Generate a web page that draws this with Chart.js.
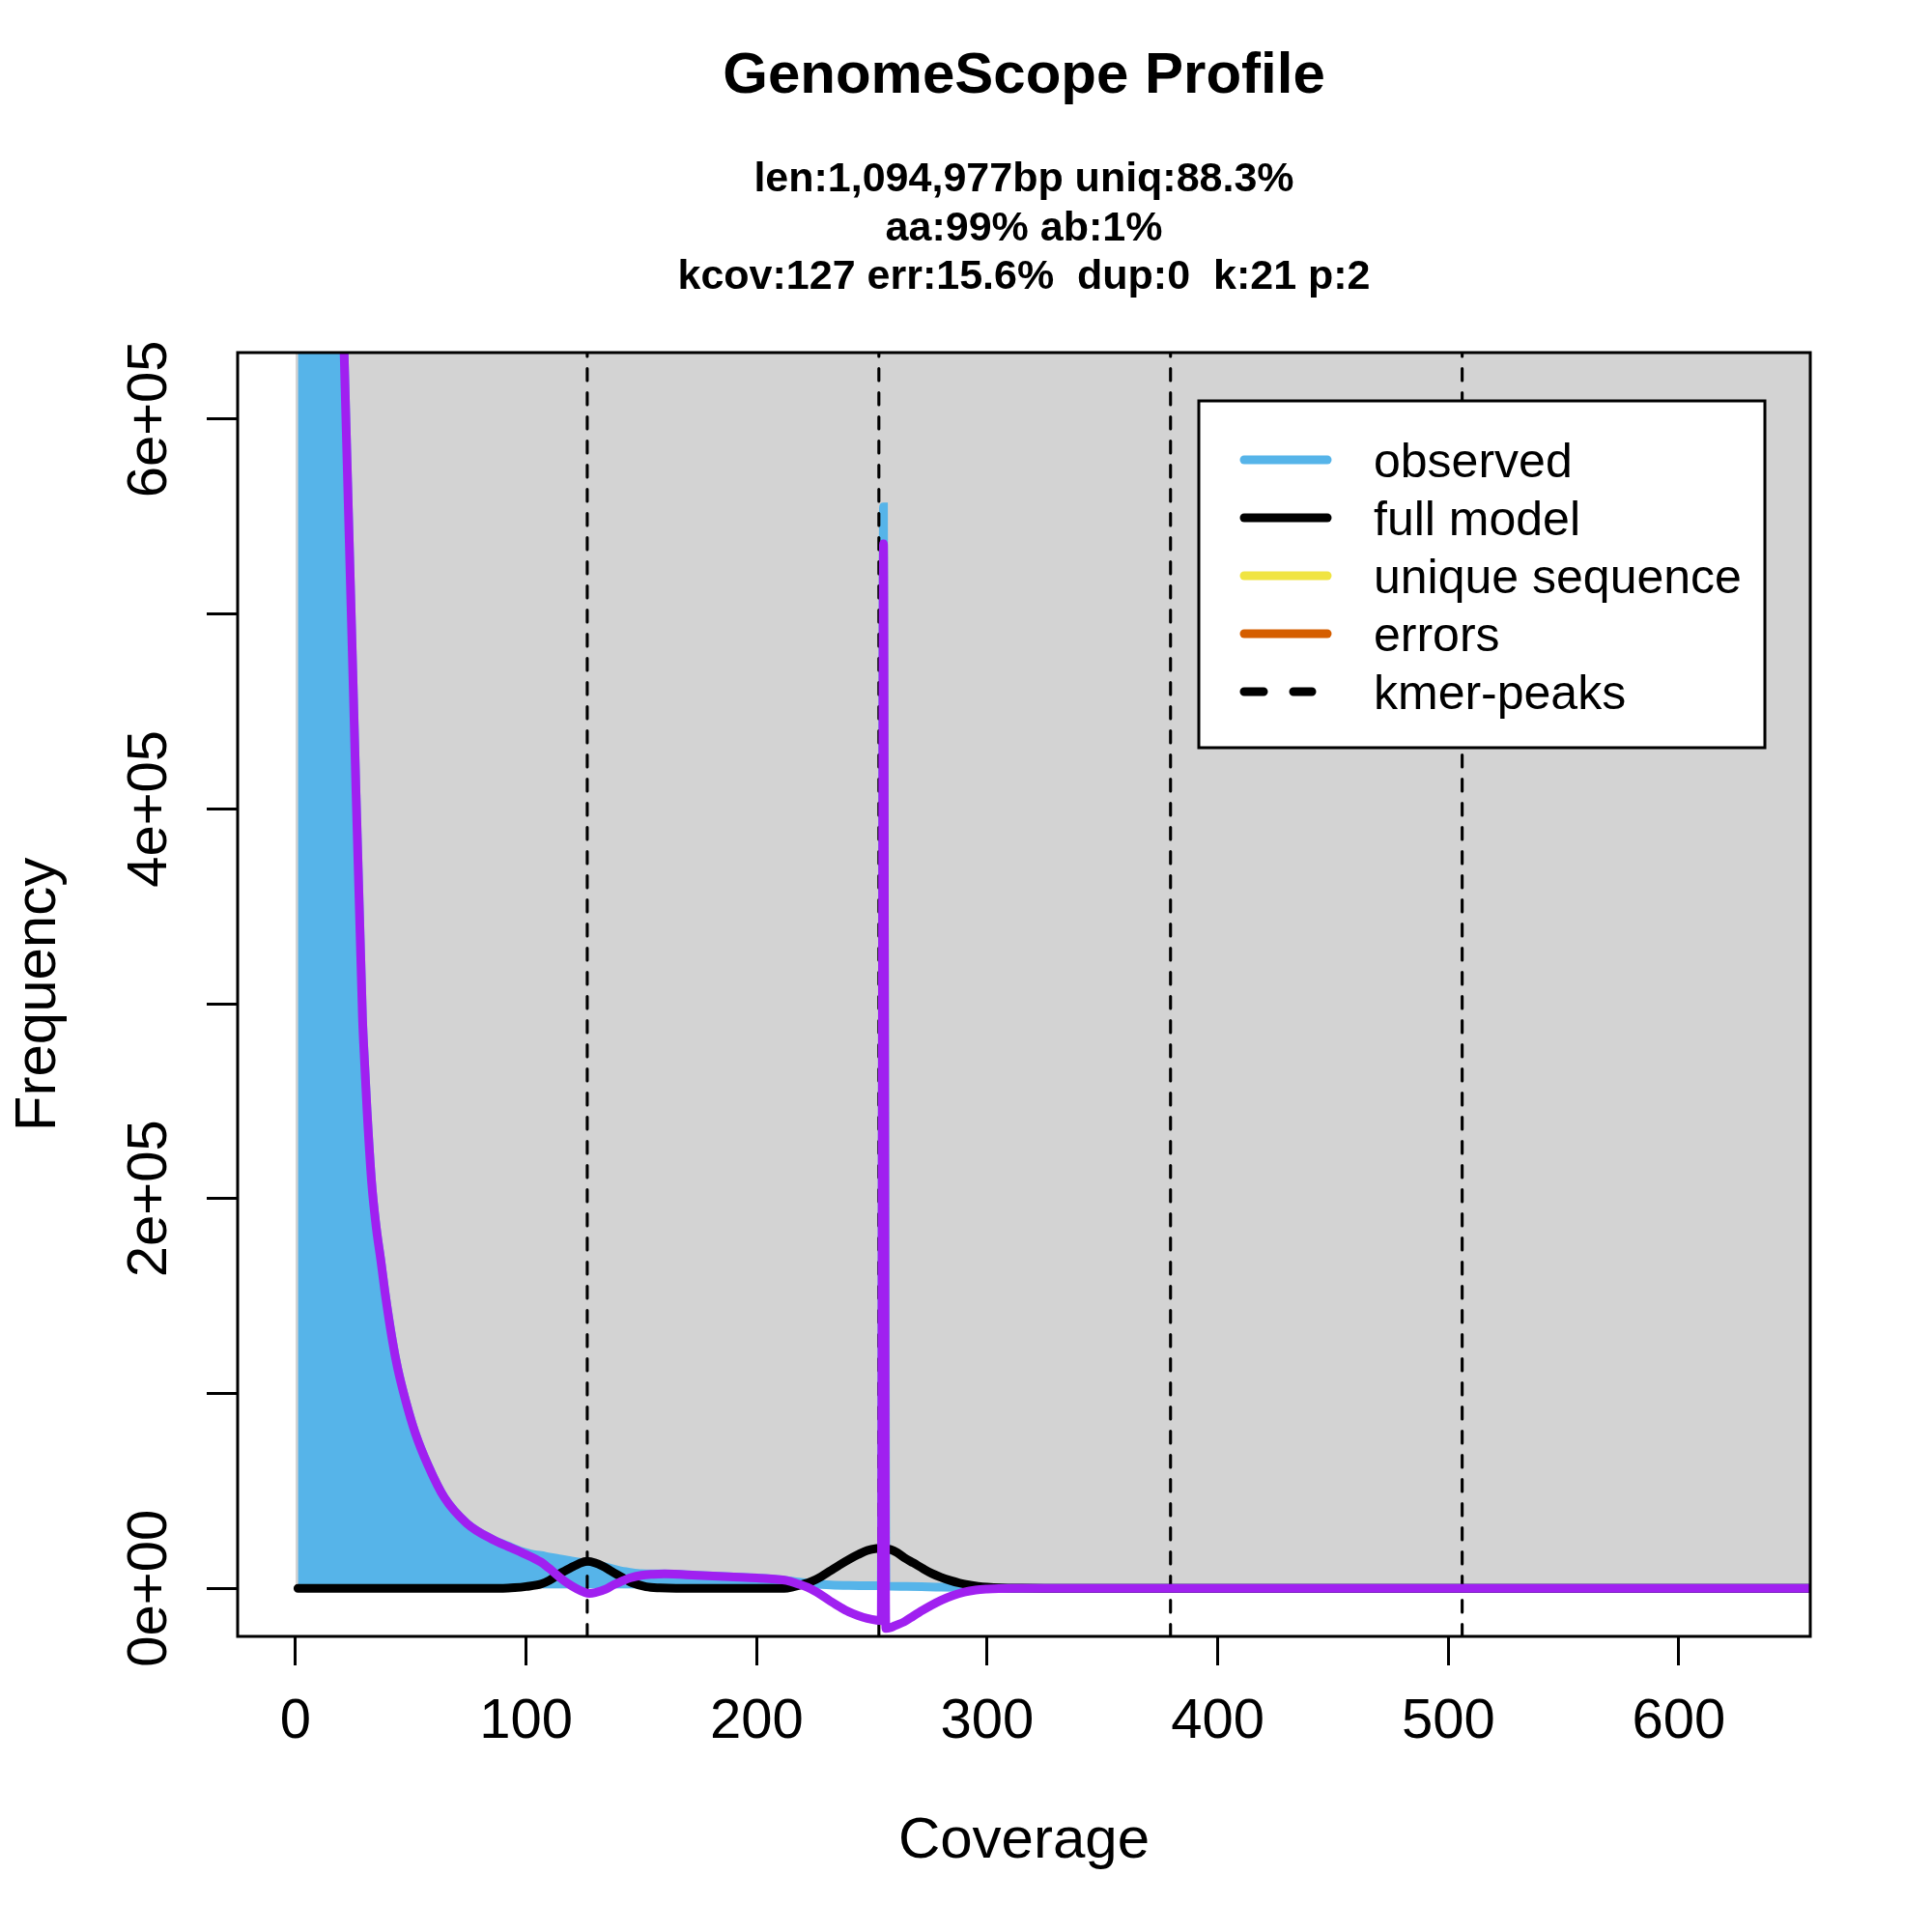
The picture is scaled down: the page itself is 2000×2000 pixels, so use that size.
<!DOCTYPE html>
<html>
<head>
<meta charset="utf-8">
<title>GenomeScope Profile</title>
<script src="https://cdn.jsdelivr.net/npm/chart.js@4.4.1/dist/chart.umd.min.js"></script>
<style>
  html, body { margin: 0; padding: 0; background: #fff; }
  #wrap { width: 2000px; height: 2000px; }
</style>
</head>
<body>
<div id="wrap"><canvas id="chart" width="2000" height="2000"></canvas></div>
<script>
// Values
const observedCov = [1, 5, 10, 15, 20, 21, 25, 29, 30, 31, 33, 35, 37, 39, 42, 44.3, 47.8, 51.9, 57.5, 64.5, 74.3, 85.5,
    92, 98, 102, 106.5, 110, 115, 118, 123, 127, 130, 134.5, 140, 145, 150, 155, 160, 174, 188, 200, 208, 213, 218, 225, 232, 240, 250,
    254, 255, 256, 265, 280, 290, 300, 315, 660];
const observedFreq = [2500000, 1800000, 1250000, 900000, 680000, 636000, 462000, 293000, 268000, 245000, 208000, 185000, 168000, 150000,
    127000, 112700, 96000, 79700, 63000, 46600, 33300, 25000,
    21800, 18900, 17600, 16800, 16000, 15000, 14400, 13400, 12800, 12000, 11000, 9200, 8200, 7500, 7400, 7400, 6700, 5900, 5300, 4600, 4000, 3200,
    2300, 1700, 1400, 1300, 1300, 555000, 1200, 1000, 600, 400, 200, 0, 0];

const modelCov = [1, 90, 95, 100, 106.5, 110, 115, 120.5, 123, 126.5, 130, 133, 136, 139, 144, 146, 152, 158, 165,
    212, 216, 220, 224, 228, 232, 236, 240, 244, 248, 252, 255, 258, 261, 264, 268, 272, 276, 280, 284, 288, 292, 296, 300, 306, 315, 325, 660];
const modelFreq = [0, 0, 300, 900, 2200, 4000, 7800, 11200, 12700, 13800, 13000, 11500, 9500, 7300, 4000, 2800, 800, 200, 0,
    0, 800, 2000, 3600, 6000, 9000, 12000, 14800, 17300, 19400, 20400, 20600, 19900, 18200, 15700, 13000, 10200, 7600, 5600, 4000, 2700,
    1700, 1000, 550, 200, 50, 0, 0];

// purple curve (not in the legend)
const residualCov = [1, 5, 10, 15, 20, 21, 25, 29, 30, 31, 33, 35, 37, 39, 42, 44.3, 47.8, 51.9, 57.5, 64.5, 74.3, 85.5,
    92, 98, 106.5, 110, 115, 118, 122, 125, 127.5, 130, 134.5, 138, 141.5, 145, 150, 155, 160, 174, 188, 200, 208, 213, 218, 222, 226,
    231.5, 236, 240, 244, 248, 252, 254, 255, 256, 258, 260, 264, 268, 272, 276, 280, 285, 290, 295, 300, 305, 312, 660];
const residualFreq = [2500000, 1800000, 1250000, 900000, 680000, 636000, 462000, 293000, 268000, 245000, 208000, 185000, 168000, 150000,
    127000, 112700, 96000, 79700, 63000, 46600, 33300, 25000,
    21500, 18400, 13400, 10200, 5200, 2600, -300, -1900, -2600, -2200, -500, 1800, 3600, 5300, 6700, 7200, 7400, 6700, 5900, 5300, 4700, 4000,
    2200, 500, -2000, -6200, -9500, -12100, -14000, -15500, -16400, -16600, 536000, -20600, -20200, -19200, -17200, -14200, -11300, -8600,
    -6200, -3800, -2000, -900, -400, -150, 0, 0];

const peaks = [126.5, 253, 379.5, 506];

const xTicks = [0, 100, 200, 300, 400, 500, 600];
const xTickLabels = ['0', '100', '200', '300', '400', '500', '600'];
const yTicks = [0, 100000, 200000, 300000, 400000, 500000, 600000];
const yTickLabels = ['0e+00', '', '2e+05', '', '4e+05', '', '6e+05'];

const xMin = -25.14, xMax = 657.0;
const yMin = -24690, yMax = 634170;

const titleText = 'GenomeScope Profile';
const subtitleLines = ['len:1,094,977bp uniq:88.3%', 'aa:99% ab:1%', 'kcov:127 err:15.6%  dup:0  k:21 p:2'];

const legendLabels = ['observed', 'full model', 'unique sequence', 'errors', 'kmer-peaks'];
const legendColors = ['#56B4E9', '#000000', '#F0E442', '#D55E00', '#000000'];

const FONT = "'Liberation Sans', Arial, sans-serif";
const COL_OBS = '#56B4E9';
const COL_BG = '#D3D3D3';
const COL_RES = '#A020F0';
const LW = 9;

const toPoints = (xs, ys) => xs.map((x, i) => ({ x: x, y: ys[i] }));

// R style decorations: grey panel, box, titles, rotated y labels, legend
const rDecor = {
    id: 'rDecor',
    beforeDraw(chart) {
        const ctx = chart.ctx;
        ctx.save();
        ctx.fillStyle = '#ffffff';
        ctx.fillRect(0, 0, chart.width, chart.height);
        ctx.restore();
    },
    beforeDatasetsDraw(chart) {
        const { ctx, chartArea: ca, scales } = chart;
        const x0 = scales.x.getPixelForValue(0);
        const y0 = scales.y.getPixelForValue(0);
        ctx.save();
        ctx.fillStyle = COL_BG;
        ctx.fillRect(x0, ca.top, ca.right - x0, y0 - ca.top);
        ctx.restore();
    },
    afterDraw(chart) {
        const { ctx, chartArea: ca, scales } = chart;
        ctx.save();

        // plot box
        ctx.strokeStyle = '#000';
        ctx.lineWidth = 3;
        ctx.strokeRect(ca.left, ca.top, ca.right - ca.left, ca.bottom - ca.top);

        const cx = (ca.left + ca.right) / 2;
        ctx.fillStyle = '#000';
        ctx.textAlign = 'center';
        ctx.textBaseline = 'alphabetic';

        ctx.font = 'bold 60px ' + FONT;
        ctx.fillText(titleText, cx, 96);

        ctx.font = 'bold 43px ' + FONT;
        subtitleLines.forEach((s, i) => ctx.fillText(s, cx, 198 + i * 50.5));

        ctx.font = '60px ' + FONT;
        ctx.fillText('Coverage', cx, 1923);

        ctx.save();
        ctx.translate(57, (ca.top + ca.bottom) / 2);
        ctx.rotate(-Math.PI / 2);
        ctx.fillText('Frequency', 0, 0);
        ctx.restore();

        // y tick labels, rotated like R's las=0
        ctx.font = '58px ' + FONT;
        ctx.textBaseline = 'middle';
        yTicks.forEach((v, i) => {
            if (!yTickLabels[i]) return;
            const py = scales.y.getPixelForValue(v);
            ctx.save();
            ctx.translate(156, py);
            ctx.rotate(-Math.PI / 2);
            ctx.fillText(yTickLabels[i], 0, 0);
            ctx.restore();
        });

        // legend
        const lx = 1241, ly = 415, lw = 586, lh = 359;
        ctx.fillStyle = '#fff';
        ctx.fillRect(lx, ly, lw, lh);
        ctx.strokeStyle = '#000';
        ctx.lineWidth = 3;
        ctx.strokeRect(lx, ly, lw, lh);

        ctx.font = '50px ' + FONT;
        ctx.textAlign = 'left';
        ctx.textBaseline = 'alphabetic';
        ctx.lineCap = 'round';
        legendLabels.forEach((lab, i) => {
            const yy = 476 + i * 60;
            ctx.strokeStyle = legendColors[i];
            ctx.lineWidth = 9;
            ctx.beginPath();
            if (lab === 'kmer-peaks') {
                ctx.moveTo(1288, yy); ctx.lineTo(1308, yy);
                ctx.moveTo(1339, yy); ctx.lineTo(1358, yy);
            } else {
                ctx.moveTo(1288, yy); ctx.lineTo(1374, yy);
            }
            ctx.stroke();
            ctx.fillStyle = '#000';
            ctx.fillText(lab, 1422, yy + 18);
        });

        ctx.restore();
    }
};

const peakSets = peaks.map((p, i) => ({
    label: 'peak' + (i + 1),
    data: [{ x: p, y: yMin }, { x: p, y: yMax }],
    borderColor: '#000',
    borderWidth: 3.1,
    borderDash: [12.5, 12.5],
    borderCapStyle: 'round',
    pointRadius: 0,
    fill: false,
    order: 2
}));

new Chart(document.getElementById('chart'), {
    type: 'line',
    data: {
        datasets: [
            {
                label: 'residual',
                data: toPoints(residualCov, residualFreq),
                borderColor: COL_RES,
                borderWidth: LW,
                pointRadius: 0,
                fill: false,
                cubicInterpolationMode: 'monotone',
                order: 0
            },
            {
                label: 'full model',
                data: toPoints(modelCov, modelFreq),
                borderColor: '#000',
                borderWidth: LW,
                borderCapStyle: 'round',
                pointRadius: 0,
                fill: false,
                cubicInterpolationMode: 'monotone',
                order: 1
            },
            ...peakSets,
            {
                label: 'observed',
                data: toPoints(observedCov, observedFreq),
                borderColor: COL_OBS,
                backgroundColor: COL_OBS,
                borderWidth: LW,
                pointRadius: 0,
                fill: 'origin',
                cubicInterpolationMode: 'monotone',
                order: 3
            }
        ]
    },
    options: {
        responsive: false,
        animation: false,
        devicePixelRatio: 1,
        layout: { padding: { top: 365, right: 126, bottom: 0, left: 0 } },
        plugins: { legend: { display: false }, tooltip: { enabled: false } },
        scales: {
            x: {
                type: 'linear',
                min: xMin,
                max: xMax,
                afterBuildTicks: s => { s.ticks = xTicks.map(v => ({ value: v })); },
                afterFit: s => { s.height = 306; },
                border: { display: false },
                grid: { drawOnChartArea: false, drawTicks: true, tickLength: 30, color: '#000', lineWidth: 3 },
                ticks: {
                    autoSkip: false,
                    maxRotation: 0,
                    padding: 24,
                    color: '#000',
                    font: { family: FONT, size: 58 },
                    callback: (v, i) => xTickLabels[i]
                }
            },
            y: {
                type: 'linear',
                min: yMin,
                max: yMax,
                afterBuildTicks: s => { s.ticks = yTicks.map(v => ({ value: v })); },
                afterFit: s => { s.width = 246; },
                border: { display: false },
                grid: { drawOnChartArea: false, drawTicks: true, tickLength: 32, color: '#000', lineWidth: 3 },
                ticks: { display: false }
            }
        }
    },
    plugins: [rDecor]
});
</script>
</body>
</html>
